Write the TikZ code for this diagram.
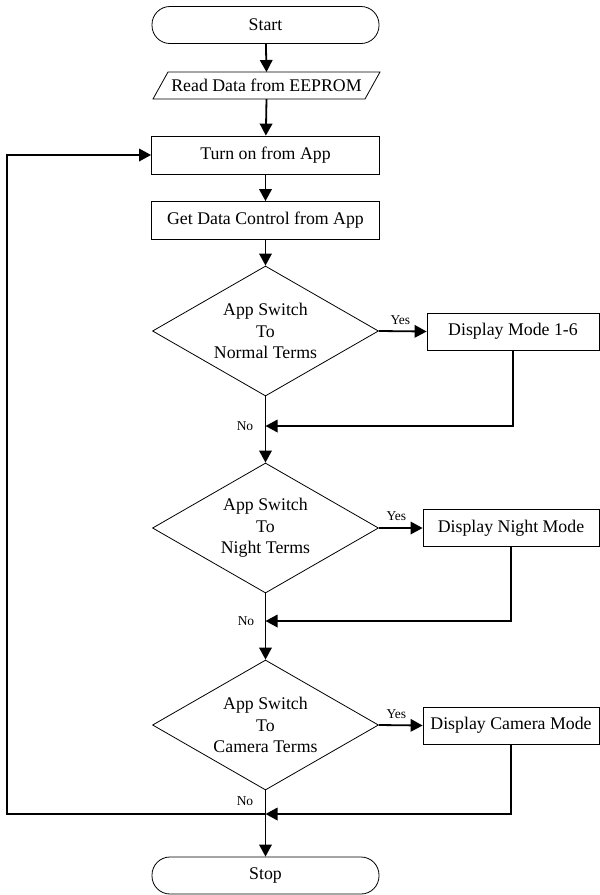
\documentclass[tikz,border=0pt]{standalone}
\usepackage{fontspec}
\setmainfont{Liberation Serif}
\usetikzlibrary{shapes.geometric,arrows.meta}
\begin{document}
\begin{tikzpicture}[x=1pt,y=-1pt,
  mainf/.style={font=\fontsize{17.8}{21.5}\selectfont},
  term/.style={draw, line width=0.8pt, rounded corners=18pt, minimum width=227pt, minimum height=37pt, inner sep=0pt, mainf},
  proc/.style={draw, line width=0.8pt, minimum width=228pt, minimum height=38pt, inner sep=0pt, mainf},
  side/.style={draw, line width=0.8pt, minimum width=176pt, minimum height=37pt, inner sep=0pt, mainf},
  dia/.style={diamond, draw, line width=0.8pt, minimum width=226pt, minimum height=130pt, inner sep=0pt},
  diatext/.style={align=center, inner sep=0pt, mainf},
  conn/.style={line width=1.8pt, -{Triangle[length=12pt,width=12.5pt]}},
  lbl/.style={font=\fontsize{13.5}{16}\selectfont, inner sep=0pt}]
\useasboundingbox (0,0) rectangle (600,895);

% Start
\node[term] (start) at (265.5,25) {Start};

% Read data (parallelogram)
\node[minimum width=212pt, minimum height=27pt, inner sep=0pt, mainf] (read) at (266.5,85.5) {Read Data from EEPROM};
\draw[line width=0.8pt] (153,99) -- (168,72) -- (380,72) -- (365,99) -- cycle;

% Process boxes
\node[proc] (turn) at (265.5,155) {Turn on from App};
\node[proc] (get) at (265.5,220.5) {Get Data Control from App};

% Decisions
\node[dia] (d1) at (265.5,331) {};
\node[diatext] (t1) at (d1) {App Switch\\To\\Normal Terms};
\node[dia] (d2) at (265.5,528) {};
\node[diatext] (t2) at (d2) {App Switch\\To\\Night Terms};
\node[dia] (d3) at (265.5,725) {};
\node[diatext] (t3) at (d3) {App Switch\\To\\Camera Terms};

% Side boxes
\node[side, minimum width=172pt] (b1) at (513,331.5) {Display Mode 1-6};
\node[side] (b2) at (511,528) {Display Night Mode};
\node[side] (b3) at (511,725.5) {Display Camera Mode};

% Stop
\node[term] (stop) at (265.5,875.5) {Stop};

% merge coordinates
\coordinate (m1) at (265.5,426);
\coordinate (m2) at (265.5,621);
\coordinate (m3) at (265.5,814);
\coordinate (lp) at (7,814);

% Main flow
\draw[conn] (start) -- (read.north |- 0,72);
\draw[conn] (read.south |- 0,99) -- (turn);
\draw[conn] (turn) -- (get);
\draw[conn] (get) -- (d1);
\draw[conn] (d1) -- (d2);
\draw[conn] (d2) -- (d3);
\draw[conn] (d3) -- (stop);

% Yes branches
\draw[conn] (d1.east) -- (b1.west) node[lbl, pos=0.45, above=6pt] {Yes};
\draw[conn] (d2.east) -- (b2.west) node[lbl, pos=0.4, above=6pt] {Yes};
\draw[conn] (d3.east) -- (b3.west) node[lbl, pos=0.4, above=6pt] {Yes};

% Returns
\draw[conn] (b1.south) |- (m1);
\draw[conn] (b2.south) |- (m2);
\draw[conn] (b3.south) |- (m3);

% No labels
\node[lbl] (n1) at (245,426) {No};
\node[lbl] (n2) at (246,621) {No};
\node[lbl] (n3) at (245,801.5) {No};

% Loop back
\draw[conn] (m3) -- (lp) |- (turn.west);
\end{tikzpicture}
\end{document}
